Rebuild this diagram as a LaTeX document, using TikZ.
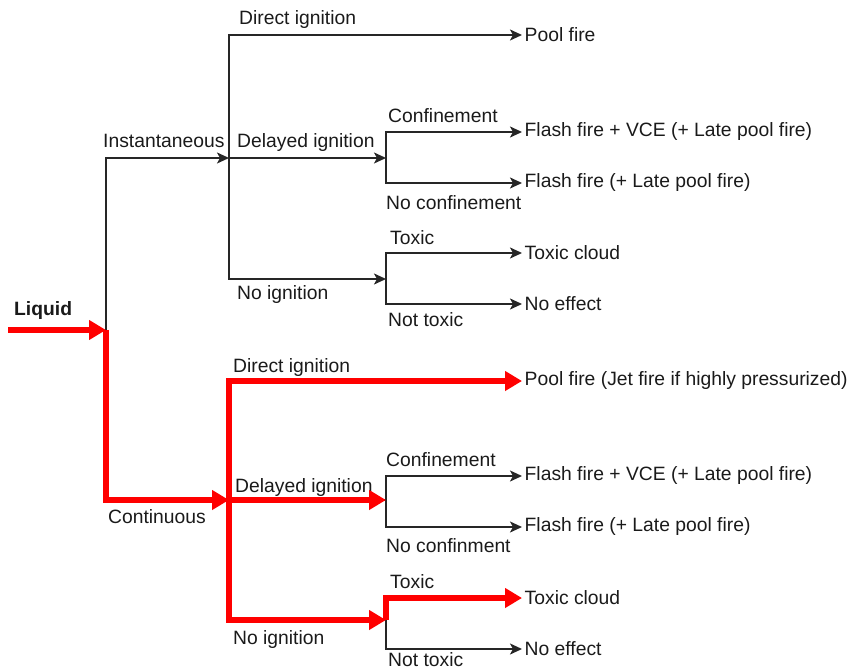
\documentclass[tikz,border=0pt]{standalone}
\usepackage{fontspec}
\setmainfont{Liberation Sans}
\usetikzlibrary{arrows.meta}
\definecolor{txt}{HTML}{1A1A1A}
\definecolor{hl}{HTML}{FF0000}
\tikzset{
  blk/.style={draw=black!85, line width=1.7pt, -{Stealth[length=12pt,width=11pt,inset=3pt]}},
  blkplain/.style={draw=black!85, line width=1.7pt},
  redp/.style={draw=hl, line width=5.5pt, -{Triangle[length=17pt,width=19pt]}},
  lbl/.style={anchor=west, inner sep=0pt, text=txt, font=\fontsize{19.3}{21}\selectfont},
  outc/.style={anchor=west, inner xsep=2.5pt, inner ysep=0pt, text=txt, font=\fontsize{19.3}{21}\selectfont},
}
\begin{document}
\begin{tikzpicture}[x=1pt,y=-1pt]
\useasboundingbox (0,0) rectangle (851,671);
% junctions
\coordinate (start) at (8,330);
\coordinate (t1) at (106,330);
\coordinate (i2) at (229,158);
\coordinate (c2) at (229,500);
\coordinate (i3a) at (386,158);
\coordinate (i3b) at (386,279);
\coordinate (c3a) at (386,500);
\coordinate (c3b) at (386,620);
% outcomes
\node[outc] (o1) at (522,35) {Pool fire};
\node[outc] (o2) at (522,132) {Flash fire + VCE (+ Late pool fire)};
\node[outc] (o3) at (522,183) {Flash fire (+ Late pool fire)};
\node[outc] (o4) at (522,253) {Toxic cloud};
\node[outc] (o5) at (522,304) {No effect};
\node[outc] (o6) at (522,381) {Pool fire (Jet fire if highly pressurized)};
\node[outc] (o7) at (522,476) {Flash fire + VCE (+ Late pool fire)};
\node[outc] (o8) at (522,527) {Flash fire (+ Late pool fire)};
\node[outc] (o9) at (522,598) {Toxic cloud};
\node[outc] (o10) at (522,649) {No effect};
% labels
\node[lbl, font=\bfseries\fontsize{19.3}{21}\selectfont] (liq) at (14,311) {Liquid};
\node[lbl] (l1) at (103,141) {Instantaneous};
\node[lbl] (l2) at (239,20) {Direct ignition};
\node[lbl] (l3) at (237,143) {Delayed ignition};
\node[lbl] (l4) at (388,116) {Confinement};
\node[lbl] (l5) at (386,203) {No confinement};
\node[lbl] (l6) at (237,295) {No ignition};
\node[lbl] (l7) at (390,238) {Toxic};
\node[lbl] (l8) at (388,320) {Not toxic};
\node[lbl] (l9) at (108,517) {Continuous};
\node[lbl] (l10) at (233,368) {Direct ignition};
\node[lbl] (l11) at (235,488) {Delayed ignition};
\node[lbl] (l12) at (386,460) {Confinement};
\node[lbl] (l13) at (386,546) {No confinment};
\node[lbl] (l14) at (233,640) {No ignition};
\node[lbl] (l15) at (390,582) {Toxic};
\node[lbl] (l16) at (388,660) {Not toxic};
% black tree (instantaneous)
\draw[blk] (t1) |- (i2);
\draw[blk] (i2) |- (o1.west);
\draw[blk] (i2) -- (i3a);
\draw[blk] (i2) |- (i3b);
\draw[blk] (i3a) |- (o2.west);
\draw[blk] (i3a) |- (o3.west);
\draw[blk] (i3b) |- (o4.west);
\draw[blk] (i3b) |- (o5.west);
% continuous branch
\draw[blkplain] (c2) -- (c3a);
\draw[blk] (c3a) |- (o7.west);
\draw[blk] (c3a) |- (o8.west);
\draw[blk] (c3b) |- (o10.west);
% red path
\draw[redp] (start) -- (t1);
\draw[redp] (t1) |- (c2);
\draw[redp] (c2) |- (o6.west);
\draw[redp] (c2) -- (c3a);
\draw[redp] (c2) |- (c3b);
\draw[redp] (c3b) |- (o9.west);
\end{tikzpicture}
\end{document}
